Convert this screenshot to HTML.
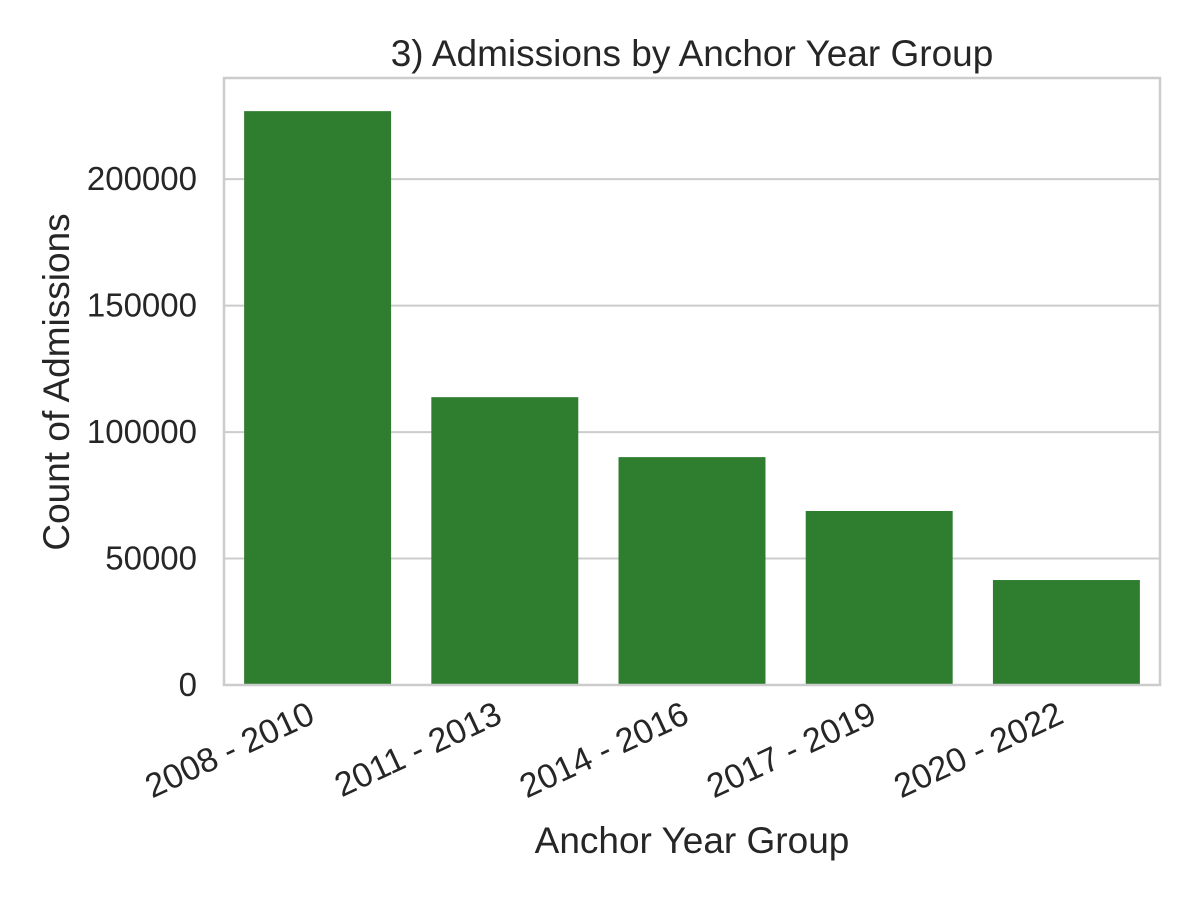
<!DOCTYPE html>
<html>
<head>
<meta charset="utf-8">
<style>
html,body{margin:0;padding:0;background:#fff;}
svg text{font-family:"Liberation Sans","DejaVu Sans",sans-serif;fill:#262626;}
</style>
</head>
<body>
<svg id="chart" width="1200" height="900" viewBox="0 0 1200 900">
  <text x="692" y="66" font-size="37" text-anchor="middle">3) Admissions by Anchor Year Group</text>
  <g id="grid"></g>
  <g id="bars"></g>
  <rect x="224" y="78" width="936" height="607" fill="none" stroke="#cccccc" stroke-width="2.5"/>
  <g id="yticks"></g>
  <g id="xticks"></g>
  <text x="692" y="853" font-size="37" text-anchor="middle">Anchor Year Group</text>
  <text transform="translate(69,382) rotate(-90)" font-size="37" text-anchor="middle">Count of Admissions</text>
</svg>
<script>
const categories = ["2008 - 2010","2011 - 2013","2014 - 2016","2017 - 2019","2020 - 2022"];
const admissions = [226900, 113800, 90100, 68800, 41500];
const yTicks = [0, 50000, 100000, 150000, 200000];

const NS = "http://www.w3.org/2000/svg";
const plot = {left:224, right:1160, top:78, bottom:685};
const yMax = 240000;
function y(v){ return plot.bottom - v/yMax*(plot.bottom-plot.top); }
const band = (plot.right-plot.left)/categories.length;
function xc(i){ return plot.left + band*(i+0.5); }
const barW = band*0.785;

const grid = document.getElementById('grid');
const yt = document.getElementById('yticks');
yTicks.forEach(function(t){
  const l = document.createElementNS(NS,'line');
  l.setAttribute('x1',plot.left); l.setAttribute('x2',plot.right);
  l.setAttribute('y1',y(t)); l.setAttribute('y2',y(t));
  l.setAttribute('stroke','#cccccc'); l.setAttribute('stroke-width','2');
  
  
  grid.appendChild(l);
  const tx = document.createElementNS(NS,'text');
  tx.setAttribute('x',plot.left-27); tx.setAttribute('y',y(t)+11);
  tx.setAttribute('font-size','33'); tx.setAttribute('text-anchor','end');
  tx.textContent = String(t);
  
  
  yt.appendChild(tx);
});

const bars = document.getElementById('bars');
const xt = document.getElementById('xticks');
categories.forEach(function(c,i){
  const r = document.createElementNS(NS,'rect');
  r.setAttribute('x',xc(i)-barW/2); r.setAttribute('width',barW);
  r.setAttribute('y',y(admissions[i])); r.setAttribute('height',plot.bottom-y(admissions[i]));
  r.setAttribute('fill','#2f7d2f');
  
  
  bars.appendChild(r);
  const tx = document.createElementNS(NS,'text');
  const ax = xc(i)-6, ay = plot.bottom+26;
  tx.setAttribute('transform','translate('+ax+','+ay+') rotate(-25)');
  tx.setAttribute('font-size','34'); tx.setAttribute('text-anchor','end');
  tx.setAttribute('dy','12');
  tx.textContent = c;
  
  
  xt.appendChild(tx);
});
</script>
</body>
</html>
